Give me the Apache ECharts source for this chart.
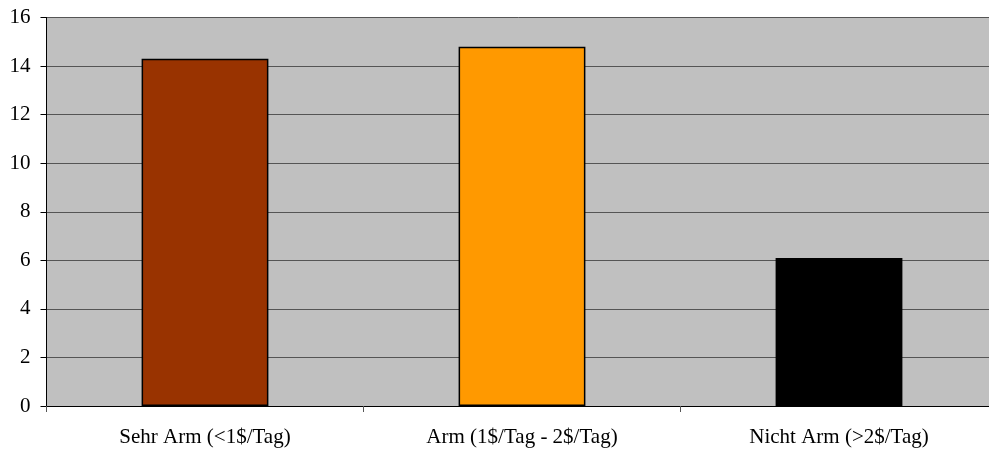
<!DOCTYPE html>
<html><head><meta charset="utf-8">
<script src="https://cdn.jsdelivr.net/npm/echarts@6/dist/echarts.min.js"></script>
<style>html,body{margin:0;padding:0;background:#fff}#c{width:989px;height:452px}</style>
</head><body><div id="c"></div>
<script>
const categories = ["Sehr Arm (<1$/Tag)", "Arm (1$/Tag - 2$/Tag)", "Nicht Arm (>2$/Tag)"];
const values = [14.3, 14.8, 6.1];
const barColors = ["#993300", "#FF9900", "#000000"];
const yTicks = {min: 0, max: 16, interval: 2};

const chart = echarts.init(document.getElementById('c'), null, {renderer: 'canvas'});
chart.setOption({
  animation: false,
  backgroundColor: '#ffffff',
  grid: {left: 46.5, top: 17.5, width: 951, height: 388.5, outerBoundsMode: 'none', containLabel: false,
         show: true, backgroundColor: '#C0C0C0', borderWidth: 0},
  xAxis: {
    type: 'category', data: categories,
    axisLine: {show: true, lineStyle: {color: '#000', width: 1}},
    axisTick: {show: true, alignWithLabel: false, length: 6, lineStyle: {color: '#555'}},
    axisLabel: {fontFamily: 'Liberation Serif', fontSize: 21, color: '#000', margin: 21}
  },
  yAxis: {
    type: 'value', min: yTicks.min, max: yTicks.max, interval: yTicks.interval,
    axisLine: {show: true, lineStyle: {color: '#000', width: 1}},
    axisTick: {show: true, length: 6, lineStyle: {color: '#000'}},
    axisLabel: {fontFamily: 'Liberation Serif', fontSize: 21, color: '#000', margin: 16},
    splitLine: {show: true, lineStyle: {color: '#555555', width: 1}}
  },
  series: [{
    type: 'bar', barWidth: '40%',
    data: values.map((v, i) => ({value: v, itemStyle: {color: barColors[i]}})),
    itemStyle: {borderColor: '#000', borderWidth: 1.5}
  }]
});
</script></body></html>
